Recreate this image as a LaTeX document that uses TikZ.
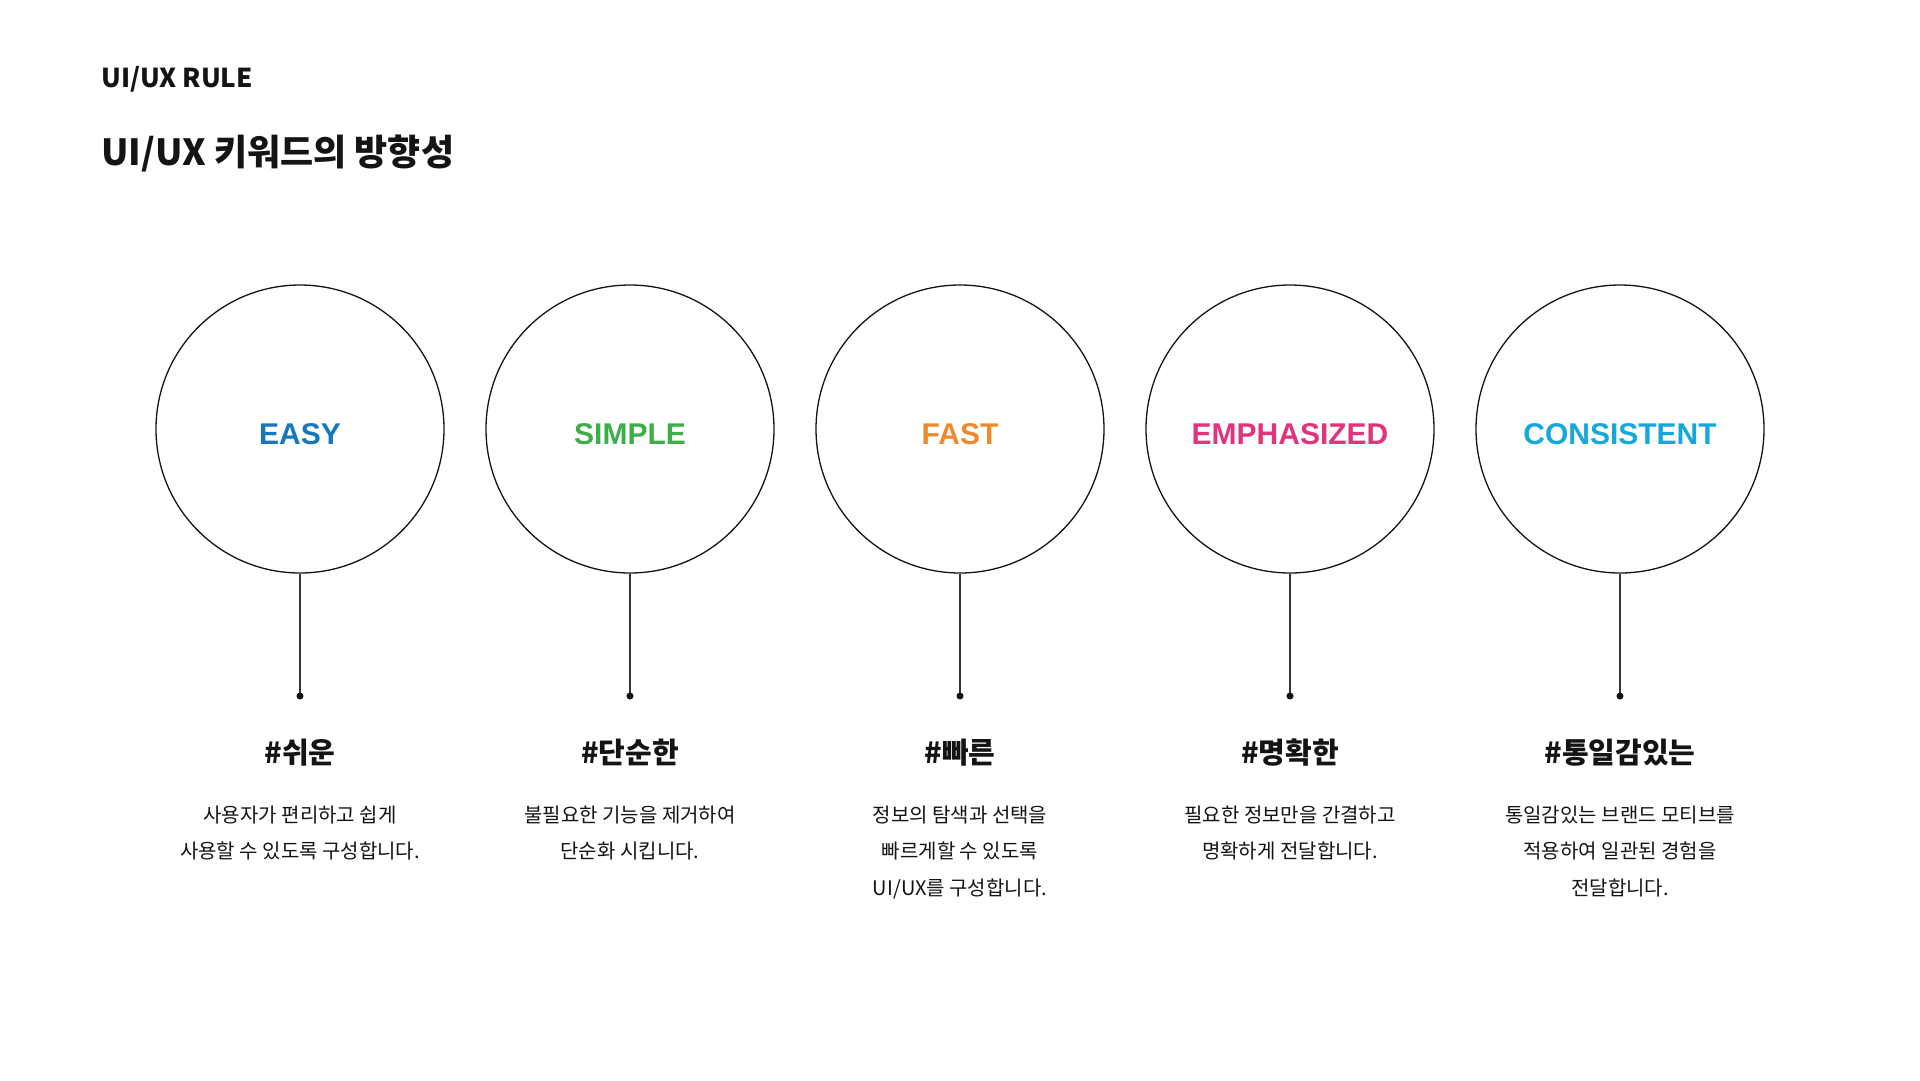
\documentclass[tikz,border=0pt]{standalone}
\usepackage{fontspec}
\setmainfont{Noto Sans CJK KR}
\newfontfamily\kwfont{Liberation Sans}
\definecolor{inkdark}{HTML}{161412}
\definecolor{stemgray}{HTML}{333333}
\definecolor{easyblue}{HTML}{1677BB}
\definecolor{simplegreen}{HTML}{3DAE4A}
\definecolor{fastorange}{HTML}{EE8A2E}
\definecolor{emphpink}{HTML}{E0347C}
\definecolor{consistcyan}{HTML}{17A8DA}
\tikzset{
  ring/.style={circle, draw=inkdark, line width=1.3pt, minimum size=288pt, inner sep=0pt},
  keyword/.style={font=\kwfont\bfseries\fontsize{30pt}{30pt}\selectfont, inner sep=0pt},
  hashtag/.style={font=\bfseries\fontsize{29pt}{29pt}\selectfont, text=inkdark, inner sep=0pt, anchor=base},
  desc/.style={font=\fontsize{20pt}{36.5pt}\selectfont, text=inkdark, align=center, inner sep=0pt, anchor=base},
  stem/.style={draw=stemgray, line width=1.3pt}
}
\begin{document}
\begin{tikzpicture}[x=1pt, y=-1pt]
    \useasboundingbox[fill=white] (0,0) rectangle (1920,1080);

    % Headings
    \node[anchor=base west, inner sep=0pt, text=inkdark, font=\bfseries\fontsize{26pt}{26pt}\selectfont] (rule) at (101,87) {UI/UX RULE};
    \node[anchor=base west, inner sep=0pt, text=inkdark, font=\bfseries\fontsize{36pt}{36pt}\selectfont] (heading) at (101,165) {UI/UX 키워드의 방향성};

    % EASY
    \node[ring] (easy) at (300,429) {};
    \node[keyword, text=easyblue] (easylbl) at (300,434) {EASY};
    \coordinate (easydot) at (300,696);
    \draw[stem] (easy.south) -- (easydot);
    \fill[inkdark] (easydot) circle (3.5pt);
    \node[hashtag] (easyhash) at (300,763) {\#쉬운};
    \node[desc] (easydesc) at (300,858.5) {사용자가 편리하고 쉽게\\사용할 수 있도록 구성합니다.};

    % SIMPLE
    \node[ring] (simple) at (630,429) {};
    \node[keyword, text=simplegreen] (simplelbl) at (630,434) {SIMPLE};
    \coordinate (simpledot) at (630,696);
    \draw[stem] (simple.south) -- (simpledot);
    \fill[inkdark] (simpledot) circle (3.5pt);
    \node[hashtag] (simplehash) at (630,763) {\#단순한};
    \node[desc] (simpledesc) at (630,858.5) {불필요한 기능을 제거하여\\단순화 시킵니다.};

    % FAST
    \node[ring] (fast) at (960,429) {};
    \node[keyword, text=fastorange] (fastlbl) at (960,434) {FAST};
    \coordinate (fastdot) at (960,696);
    \draw[stem] (fast.south) -- (fastdot);
    \fill[inkdark] (fastdot) circle (3.5pt);
    \node[hashtag] (fasthash) at (960,763) {\#빠른};
    \node[desc] (fastdesc) at (960,895) {정보의 탐색과 선택을\\빠르게할 수 있도록\\UI/UX를 구성합니다.};

    % EMPHASIZED
    \node[ring] (emph) at (1290,429) {};
    \node[keyword, text=emphpink] (emphlbl) at (1290,434) {EMPHASIZED};
    \coordinate (emphdot) at (1290,696);
    \draw[stem] (emph.south) -- (emphdot);
    \fill[inkdark] (emphdot) circle (3.5pt);
    \node[hashtag] (emphhash) at (1290,763) {\#명확한};
    \node[desc] (emphdesc) at (1290,858.5) {필요한 정보만을 간결하고\\명확하게 전달합니다.};

    % CONSISTENT
    \node[ring] (consist) at (1620,429) {};
    \node[keyword, text=consistcyan] (consistlbl) at (1620,434) {CONSISTENT};
    \coordinate (consistdot) at (1620,696);
    \draw[stem] (consist.south) -- (consistdot);
    \fill[inkdark] (consistdot) circle (3.5pt);
    \node[hashtag] (consisthash) at (1620,763) {\#통일감있는};
    \node[desc] (consistdesc) at (1620,895) {통일감있는 브랜드 모티브를\\적용하여 일관된 경험을\\전달합니다.};
\end{tikzpicture}
\end{document}
